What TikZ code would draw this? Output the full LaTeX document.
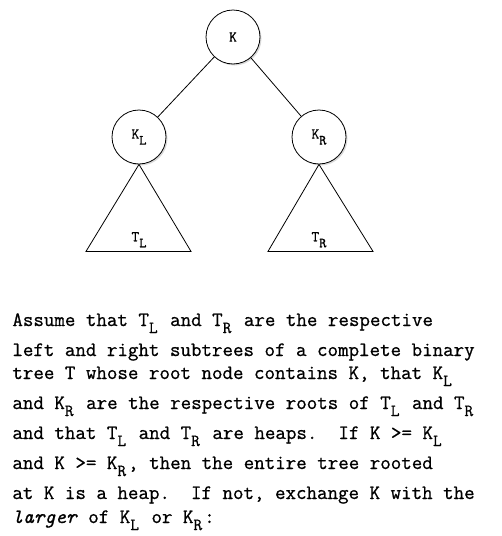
\documentclass[tikz,border=0pt]{standalone}
\usepackage{fontspec}
\setmonofont{Latin Modern Mono}[FakeBold=0.8]
\usetikzlibrary{positioning,shadows}

% subscripts, one character cell wide
\newcommand{\tsub}[1]{\raisebox{-7pt}{\makebox[10.7pt][l]{\fontsize{17}{17}\selectfont #1}}}
\newcommand{\ksub}[1]{\raisebox{-6pt}{\fontsize{14}{14}\selectfont #1}}

\begin{document}
\begin{tikzpicture}[x=1pt, y=1pt, thick]
    % Stili
    \tikzstyle{key}=[circle, draw=black, line width=0.8pt, fill=white, minimum size=54pt, inner sep=0pt, font=\ttfamily\fontsize{15}{15}\selectfont, drop shadow={shadow xshift=1.5pt, shadow yshift=-1.5pt, opacity=0.3}]
    \tikzstyle{edge}=[line width=0.8pt]
    \tikzstyle{subtree}=[font=\ttfamily\fontsize{15}{15}\selectfont]
    \tikzstyle{para}=[anchor=base west, align=left, inner sep=0pt, font=\ttfamily\fontsize{20.4}{23}\selectfont]

    \useasboundingbox (0,0) rectangle (502,-536);

    % Nodi
    \node (root) [key] at (233,-37) {K};
    \node (kl) [key, on grid, below left=100pt and 94pt of root] {K\ksub{L}};
    \node (kr) [key, on grid, below right=100pt and 86pt of root] {K\ksub{R}};

    % Sottoalberi
    \draw [edge] (kl.south) -- ++(-53,-87) -- ++(105,0) -- cycle;
    \draw [edge] (kr.south) -- ++(-51,-87) -- ++(105,0) -- cycle;
    \node (tl) [subtree, on grid, below=64pt of kl.south] {T\ksub{L}};
    \node (tr) [subtree, on grid, below=64pt of kr.south] {T\ksub{R}};

    % Collegamenti
    \draw [edge] (root) -- (kl);
    \draw [edge] (root) -- (kr);

    % Testo
    \node (desc) [para] at (12,-523) {Assume that T\tsub{L} and T\tsub{R} are the respective\\[7pt]
left and right subtrees of a complete binary\\
tree T whose root node contains K, that K\tsub{L}\\[7pt]
and K\tsub{R} are the respective roots of T\tsub{L} and T\tsub{R}\\[7pt]
and that T\tsub{L} and T\tsub{R} are heaps.\ \ If K >= K\tsub{L}\\[7pt]
and K >= K\tsub{R}, then the entire tree rooted\\[7pt]
at K is a heap.\ \ If not, exchange K with the\\[1pt]
\textit{larger} of K\tsub{L} or K\tsub{R}:};
\end{tikzpicture}
\end{document}
